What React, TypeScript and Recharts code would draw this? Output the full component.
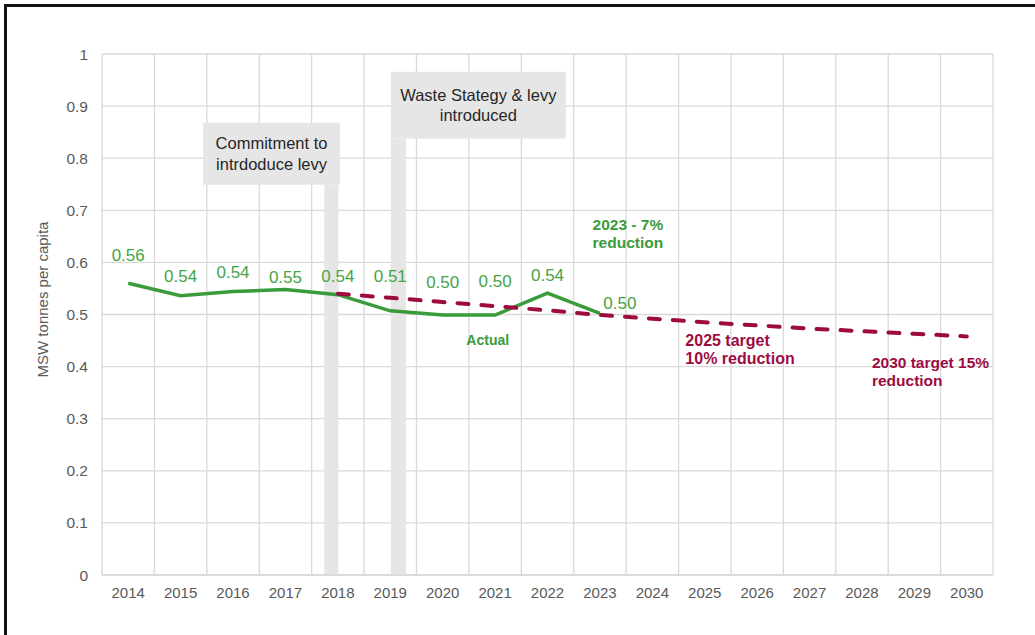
import React from "react";
import {
  LineChart,
  Line,
  XAxis,
  YAxis,
  CartesianGrid,
  ReferenceArea,
  ReferenceDot,
  LabelList,
} from "recharts";

const years = [
  2014, 2015, 2016, 2017, 2018, 2019, 2020, 2021, 2022, 2023, 2024, 2025, 2026,
  2027, 2028, 2029, 2030,
];
const gridYears = [
  2013.5, 2014.5, 2015.5, 2016.5, 2017.5, 2018.5, 2019.5, 2020.5, 2021.5,
  2022.5, 2023.5, 2024.5, 2025.5, 2026.5, 2027.5, 2028.5, 2029.5, 2030.5,
];
const yTicks = [0, 0.1, 0.2, 0.3, 0.4, 0.5, 0.6, 0.7, 0.8, 0.9, 1];

// actual MSW per capita
const actualYears = [2014, 2015, 2016, 2017, 2018, 2019, 2020, 2021, 2022, 2023];
const actualValues = [0.56, 0.536, 0.544, 0.548, 0.538, 0.507, 0.499, 0.499, 0.541, 0.502];

// target trajectory
const targetYears = [2018, 2019, 2020, 2021, 2022, 2023, 2024, 2025, 2026, 2027, 2028, 2029, 2030];
const targetValues = [0.54, 0.532, 0.524, 0.516, 0.508, 0.499, 0.492, 0.485, 0.479, 0.473, 0.468, 0.463, 0.458];

const data = years.map((year) => {
  const ai = actualYears.indexOf(year);
  const ti = targetYears.indexOf(year);
  return {
    year,
    actual: ai >= 0 ? actualValues[ai] : null,
    target: ti >= 0 ? targetValues[ti] : null,
  };
});

const GREEN = "#3a9b3a";
const LABEL_GREEN = "#46a446";
const RED = "#9e0b3f";
const GREY_BOX = "#e6e6e6";
const FONT = "'Liberation Sans', Arial, sans-serif";

// how far each value label sits above its point (px), hand-placed like the original
const labelLift = [28, 19, 19, 12, 18, 34, 33, 34, 18, 10];

const boxLabel = (lines: string[], gap: number) => (props: any) => {
  const vb = props.viewBox || {};
  const cx = vb.x + vb.width / 2;
  const cy = vb.y + vb.height / 2 - ((lines.length - 1) * gap) / 2;
  return (
    <text
      textAnchor="middle"
      dominantBaseline="central"
      fill="#262626"
      fontSize={16.5}
      fontFamily={FONT}
    >
      {lines.map((l, i) => (
        <tspan key={i} x={cx} y={cy + i * gap}>
          {l}
        </tspan>
      ))}
    </text>
  );
};

const noteLabel =
  (lines: string[], color: string, size: number, anchor: "start" | "middle", gap: number) =>
  (props: any) => {
    const vb = props.viewBox || {};
    return (
      <text
        textAnchor={anchor}
        dominantBaseline="central"
        fill={color}
        fontSize={size}
        fontWeight="bold"
        fontFamily={FONT}
      >
        {lines.map((l, i) => (
          <tspan key={i} x={vb.x} y={vb.y + i * gap}>
            {l}
          </tspan>
        ))}
      </text>
    );
  };

const renderActualLabel = (p: any) => {
  if (p.value == null) return null;
  const last = p.index === actualValues.length - 1;
  return (
    <text
      x={p.x + (last ? 20 : 0)}
      y={p.y - (labelLift[p.index] ?? 22)}
      textAnchor="middle"
      dominantBaseline="central"
      fill={LABEL_GREEN}
      fontSize={17}
      fontFamily={FONT}
    >
      {Number(p.value).toFixed(2)}
    </text>
  );
};

const yLabel = (p: any) => {
  const vb = p.viewBox || {};
  const cx = vb.x + 42;
  const cy = vb.y + vb.height / 2 - 15;
  return (
    <text
      x={cx}
      y={cy}
      transform={`rotate(-90 ${cx} ${cy})`}
      textAnchor="middle"
      dominantBaseline="central"
      fill="#595959"
      fontSize={15}
      fontFamily={FONT}
    >
      MSW tonnes per capita
    </text>
  );
};

const App = () => {
  return (
    <div
      style={{
        position: "fixed",
        left: 0,
        top: 0,
        width: 1035,
        height: 635,
        background: "#fff",
        overflow: "hidden",
        fontFamily: FONT,
      }}
    >
      <div
        style={{
          position: "absolute",
          left: 4,
          top: 4,
          width: 1100,
          height: 700,
          borderLeft: "3px solid #111",
          borderTop: "3px solid #111",
        }}
      />
      <div style={{ position: "absolute", left: 0, top: 0 }}>
        <LineChart
          width={1035}
          height={635}
          data={data}
          margin={{ top: 54, right: 42, bottom: 30, left: 0 }}
        >
          <CartesianGrid xAxisId="grid" stroke="#d9d9d9" strokeWidth={1.3} />
          <XAxis
            xAxisId="grid"
            dataKey="year"
            type="number"
            domain={[2013.5, 2030.5]}
            ticks={gridYears}
            hide
          />
          <XAxis
            dataKey="year"
            type="number"
            domain={[2013.5, 2030.5]}
            ticks={years}
            interval={0}
            height={30}
            tickLine={false}
            tickSize={0}
            tickMargin={12}
            axisLine={{ stroke: "#d9d9d9", strokeWidth: 1.3 }}
            tick={{ fill: "#595959", fontSize: 15 }}
          />
          <YAxis
            domain={[0, 1]}
            ticks={yTicks}
            width={102}
            axisLine={false}
            tickLine={false}
            tickSize={0}
            tickMargin={14}
            tick={{ fill: "#595959", fontSize: 15.5 }}
            tickFormatter={(v) => String(v)}
            label={{ content: yLabel }}
          />
          <ReferenceArea
            x1={2017.74}
            x2={2018.01}
            y1={0}
            y2={0.749}
            fill={GREY_BOX}
            fillOpacity={1}
            stroke="none"
          />
          <ReferenceArea
            x1={2019.01}
            x2={2019.3}
            y1={0}
            y2={0.838}
            fill={GREY_BOX}
            fillOpacity={1}
            stroke="none"
          />
          <ReferenceArea
            x1={2015.43}
            x2={2018.04}
            y1={0.749}
            y2={0.868}
            fill={GREY_BOX}
            fillOpacity={1}
            stroke="none"
            label={{ content: boxLabel(["Commitment to", "intrdoduce levy"], 21) }}
          />
          <ReferenceArea
            x1={2019.01}
            x2={2022.35}
            y1={0.838}
            y2={0.966}
            fill={GREY_BOX}
            fillOpacity={1}
            stroke="none"
            label={{ content: boxLabel(["Waste Stategy & levy", "introduced"], 20) }}
          />
          <Line
            dataKey="actual"
            stroke={GREEN}
            strokeWidth={3.5}
            dot={false}
            activeDot={false}
            isAnimationActive={false}
          >
            <LabelList dataKey="actual" content={renderActualLabel} />
          </Line>
          <Line
            dataKey="target"
            stroke={RED}
            strokeWidth={4}
            strokeDasharray="11 13"
            strokeLinecap="round"
            dot={false}
            activeDot={false}
            isAnimationActive={false}
          />
          <ReferenceDot
            x={2022.86}
            y={0.674}
            r={0}
            label={{ content: noteLabel(["2023 - 7%", "reduction"], GREEN, 15.5, "start", 18) }}
          />
          <ReferenceDot
            x={2020.86}
            y={0.451}
            r={0}
            label={{ content: noteLabel(["Actual"], GREEN, 14, "middle", 18) }}
          />
          <ReferenceDot
            x={2024.63}
            y={0.452}
            r={0}
            label={{ content: noteLabel(["2025 target", "10% reduction"], RED, 16, "start", 18.5) }}
          />
          <ReferenceDot
            x={2028.19}
            y={0.409}
            r={0}
            label={{ content: noteLabel(["2030 target 15%", "reduction"], RED, 15.5, "start", 17.6) }}
          />
        </LineChart>
      </div>
    </div>
  );
};

export default App;
